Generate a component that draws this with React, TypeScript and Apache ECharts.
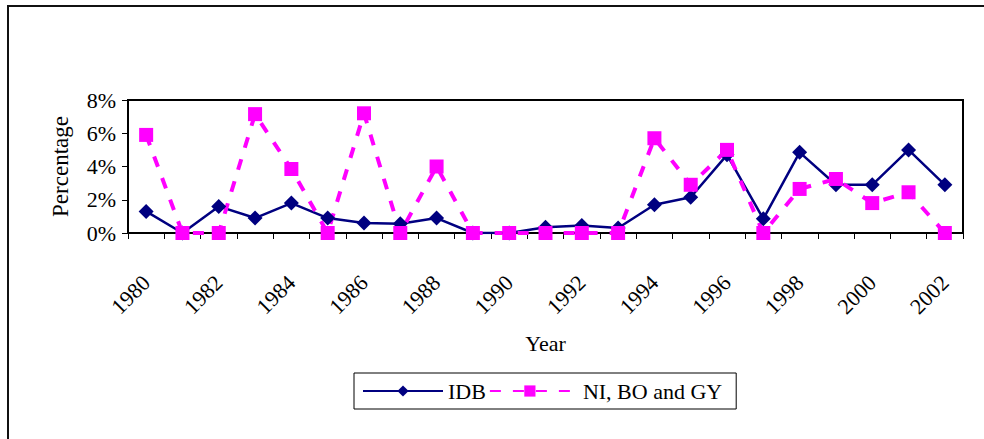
import React, { useEffect, useRef } from "react";
import * as echarts from "echarts";

const years = [
  "1980", "1981", "1982", "1983", "1984", "1985", "1986", "1987", "1988", "1989",
  "1990", "1991", "1992", "1993", "1994", "1995", "1996", "1997", "1998", "1999",
  "2000", "2001", "2002",
];
const idb = [1.3, 0, 1.6, 0.9, 1.8, 0.9, 0.6, 0.55, 0.9, 0, 0, 0.35, 0.45, 0.3, 1.7, 2.15, 4.7, 0.85, 4.85, 2.9, 2.9, 5.0, 2.9];
const nbg = [5.9, 0, 0, 7.15, 3.85, 0, 7.2, 0, 4.0, 0, 0, 0, 0, 0, 5.7, 2.9, 5.0, 0, 2.65, 3.25, 1.8, 2.45, 0];
const yTicks = { min: 0, max: 8, interval: 2 };

const FONT = "'Times New Roman', 'Liberation Serif', 'DejaVu Serif', serif";
const FS = 22;

export default function App() {
  const ref = useRef<HTMLDivElement>(null);
  useEffect(() => {
    if (!ref.current) return;
    const chart = echarts.init(ref.current, undefined, { renderer: "svg" });
    chart.setOption({
      animation: false,
      backgroundColor: "#fff",
      textStyle: { fontFamily: FONT, color: "#000" },
      graphic: [
        {
          type: "rect",
          shape: { x: 8, y: 6, width: 1200, height: 1200 },
          style: { fill: "none", stroke: "#111", lineWidth: 2 },
          silent: true,
        },
      ],
      grid: {
        left: 128,
        right: 21,
        top: 100,
        bottom: 206,
        show: true,
        borderColor: "#000",
        borderWidth: 2,
        backgroundColor: "transparent",
      },
      legend: {
        left: 354,
        top: 373,
        orient: "horizontal",
        padding: [7, 14, 7, 8],
        itemGap: 3,
        itemWidth: 80,
        itemHeight: 14,
        borderColor: "#000",
        borderWidth: 1,
        textStyle: { fontFamily: FONT, fontSize: FS, color: "#000" },
        data: [
          { name: "IDB" },
          { name: "NI, BO and GY", textStyle: { padding: [0, 0, 0, 8] } },
        ],
      },
      xAxis: {
        type: "category",
        data: years,
        boundaryGap: true,
        name: "Year",
        nameLocation: "middle",
        nameGap: 99,
        nameTextStyle: { fontFamily: FONT, fontSize: FS, color: "#000" },
        axisLine: { lineStyle: { color: "#000", width: 2 } },
        axisTick: { show: true, interval: 0, length: 6, lineStyle: { color: "#000", width: 1 } },
        axisLabel: {
          interval: 1,
          rotate: 45,
          margin: 46,
          fontFamily: FONT,
          fontSize: FS,
          color: "#000",
        },
        splitLine: { show: false },
      },
      yAxis: {
        type: "value",
        min: yTicks.min,
        max: yTicks.max,
        interval: yTicks.interval,
        name: "Percentage",
        nameLocation: "middle",
        nameGap: 56,
        nameTextStyle: { fontFamily: FONT, fontSize: 23, color: "#000" },
        axisLine: { show: true, lineStyle: { color: "#000", width: 2 } },
        axisTick: { show: true, length: 6, lineStyle: { color: "#000", width: 1 } },
        axisLabel: {
          formatter: "{value}%",
          margin: 12,
          fontFamily: FONT,
          fontSize: FS,
          color: "#000",
        },
        splitLine: { show: false },
      },
      series: [
        {
          name: "IDB",
          type: "line",
          data: idb,
          symbol: "diamond",
          symbolSize: 15,
          itemStyle: { color: "#000080" },
          lineStyle: { color: "#000080", width: 2.5 },
        },
        {
          name: "NI, BO and GY",
          type: "line",
          data: nbg,
          symbol: "rect",
          symbolSize: 14,
          itemStyle: { color: "#FF00FF" },
          lineStyle: { color: "#FF00FF", width: 4, type: [11, 12] },
        },
      ],
    });
    return () => chart.dispose();
  }, []);
  return (
    <div
      ref={ref}
      style={{ position: "fixed", left: 0, top: 0, width: 984, height: 439 }}
    />
  );
}
